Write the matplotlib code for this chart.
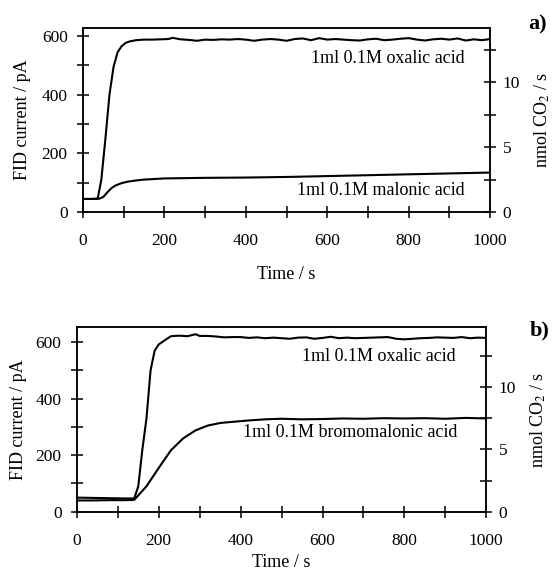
import matplotlib.pyplot as plt
import numpy as np

plt.rcParams['font.family'] = ['Liberation Serif', 'DejaVu Serif']
plt.rcParams['mathtext.fontset'] = 'stix'

# conversion pA -> nmol CO2 / s
pa_per_nmol = 44.2

# panel a) oxalic acid
t_oxa_a = [0, 20, 36, 45, 55, 65, 75, 85, 95, 105, 115, 130, 150, 170, 190,
           210, 220, 240, 260, 280, 300, 320, 340, 360, 380, 400, 420, 440,
           460, 480, 500, 520, 540, 560, 580, 600, 620, 640, 660, 680, 700,
           720, 740, 760, 780, 800, 820, 840, 860, 880, 900, 920, 940, 960,
           980, 1000]
y_oxa_a = [45, 45, 46, 110, 250, 400, 495, 545, 566, 577, 582, 586, 588, 588, 589,
           590, 594, 589, 587, 584, 588, 587, 589, 588, 590, 588, 584, 588,
           590, 588, 584, 590, 592, 586, 593, 588, 590, 588, 586, 585, 589,
           591, 586, 588, 591, 593, 588, 585, 589, 591, 588, 592, 585, 589,
           586, 590]

# panel a) malonic acid
t_mal_a = [0, 20, 40, 50, 60, 70, 80, 95, 110, 130, 150, 200, 300, 400, 500,
           600, 700, 800, 900, 1000]
y_mal_a = [45, 45, 46, 52, 68, 82, 91, 99, 104, 108, 111, 115, 117, 118, 120,
           123, 126, 129, 132, 135]

# panel b) oxalic acid
t_oxa_b = [0, 40, 80, 120, 140, 150, 160, 170, 180, 190, 200, 210, 220, 230,
           250, 270, 290, 300, 320, 340, 360, 380, 400, 420, 440, 460, 480,
           500, 520, 540, 560, 580, 600, 620, 640, 660, 680, 700, 720, 740,
           760, 780, 800, 820, 840, 860, 880, 900, 920, 940, 960, 980, 1000]
y_oxa_b = [50, 49, 48, 47, 47, 90, 220, 330, 500, 570, 592, 602, 612, 621,
           623, 621, 628, 622, 622, 620, 617, 618, 618, 615, 617, 614, 616,
           614, 612, 616, 617, 612, 615, 619, 614, 616, 614, 615, 616, 617,
           618, 612, 610, 612, 614, 615, 617, 616, 615, 618, 614, 616, 615]

# panel b) bromomalonic acid
t_bro_b = [0, 40, 80, 120, 140, 150, 170, 200, 230, 260, 290, 320, 350, 380,
           420, 460, 500, 550, 600, 650, 700, 750, 800, 850, 900, 950, 1000]
y_bro_b = [40, 40, 41, 41, 42, 58, 90, 155, 218, 260, 288, 305, 314, 318,
           323, 327, 329, 327, 328, 330, 329, 331, 330, 331, 329, 332, 330]

x_ticks = [0, 200, 400, 600, 800, 1000]
y_ticks = [0, 200, 400, 600]
y2_ticks = [0, 5, 10]

fig = plt.figure(figsize=(5.57, 5.75), dpi=100)


def style_axis(ax, ax2, ymax, ylab_pad, xlab_pad):
    ax.set_xlim(0, 1000)
    ax.set_ylim(0, ymax)
    ax2.set_ylim(0, ymax / pa_per_nmol)
    ax.set_xticks(x_ticks)
    ax.set_xticks([100, 300, 500, 700, 900], minor=True)
    ax.set_yticks(y_ticks)
    ax.set_yticks([100, 300, 500], minor=True)
    ax2.set_yticks(y2_ticks)
    ax2.set_yticks([2.5, 7.5, 12.5], minor=True)
    for a in (ax, ax2):
        a.tick_params(which='both', direction='inout', length=8, width=1.1,
                      labelsize=12.5)
        for s in a.spines.values():
            s.set_linewidth(1.1)
    ax.tick_params(axis='x', which='both', top=False, pad=11)
    ax.tick_params(axis='y', which='both', pad=7)
    ax2.tick_params(axis='y', which='both', pad=5)
    ax.set_xlabel('Time / s', fontsize=13, labelpad=xlab_pad)
    ax.set_ylabel('FID current / pA', fontsize=13, labelpad=ylab_pad)
    ax2.set_ylabel('nmol CO$_2$ / s', fontsize=13, rotation=90, labelpad=9)


# a)
ax1 = fig.add_axes([0.149, 0.631, 0.731, 0.320])
ax1r = ax1.twinx()
ax1.plot(t_oxa_a, y_oxa_a, color='black', lw=1.5)
ax1.plot(t_mal_a, y_mal_a, color='black', lw=1.5)
style_axis(ax1, ax1r, 627, 8, 12)
ax1.text(938, 525, '1ml 0.1M oxalic acid', ha='right', va='center', fontsize=13)
ax1.text(938, 75, '1ml 0.1M malonic acid', ha='right', va='center', fontsize=13)
fig.text(0.966, 0.958, 'a)', fontsize=16, fontweight='bold', ha='center', va='center')

# b)
ax2 = fig.add_axes([0.138, 0.110, 0.735, 0.321])
ax2r = ax2.twinx()
ax2.plot(t_oxa_b, y_oxa_b, color='black', lw=1.5)
ax2.plot(t_bro_b, y_bro_b, color='black', lw=1.5)
style_axis(ax2, ax2r, 653, 6, 4)
ax2.text(926, 551, '1ml 0.1M oxalic acid', ha='right', va='center', fontsize=13)
ax2.text(929, 279, '1ml 0.1M bromomalonic acid', ha='right', va='center', fontsize=13)
fig.text(0.968, 0.426, 'b)', fontsize=16, fontweight='bold', ha='center', va='center')

fig.savefig('out.png', dpi=100)
